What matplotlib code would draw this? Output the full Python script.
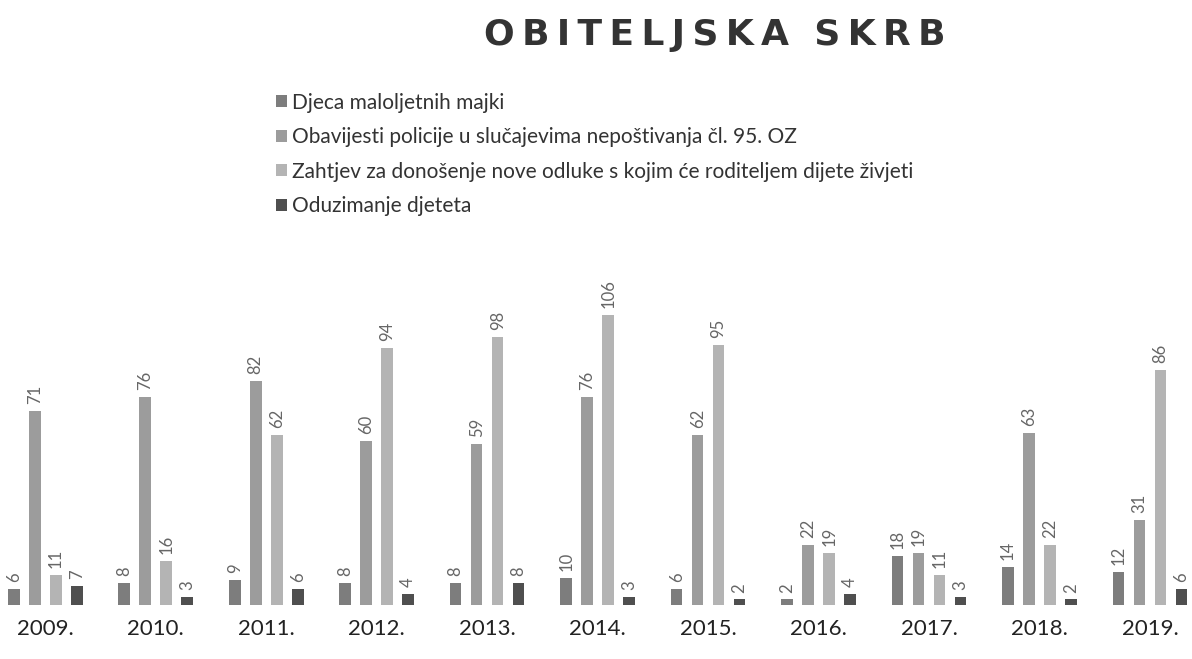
import matplotlib
matplotlib.use("Agg")
import matplotlib.pyplot as plt
import numpy as np
from matplotlib.patches import Patch

years = ["2009.", "2010.", "2011.", "2012.", "2013.", "2014.", "2015.", "2016.", "2017.", "2018.", "2019."]
series_names = [
    "Djeca maloljetnih majki",
    "Obavijesti policije u slučajevima nepoštivanja čl. 95. OZ",
    "Zahtjev za donošenje nove odluke s kojim će roditeljem dijete živjeti",
    "Oduzimanje djeteta",
]
djeca = [6, 8, 9, 8, 8, 10, 6, 2, 18, 14, 12]
obavijesti = [71, 76, 82, 60, 59, 76, 62, 22, 19, 63, 31]
zahtjev = [11, 16, 62, 94, 98, 106, 95, 19, 11, 22, 86]
oduzimanje = [7, 3, 6, 4, 8, 3, 2, 4, 3, 2, 6]

series = [djeca, obavijesti, zahtjev, oduzimanje]
colors = ["#7d7d7d", "#9c9c9c", "#b4b4b4", "#4f4f4f"]

plt.rcParams['font.family'] = ['Lato', 'DejaVu Sans']
fig = plt.figure(figsize=(11.92, 6.59), dpi=100)
ax = fig.add_axes([0.0, 0.082, 1.0, 0.523])

x = np.arange(len(years))
step = 0.19
width = 0.105
for i, (vals, col) in enumerate(zip(series, colors)):
    pos = x + (i - 1.5) * step
    bars = ax.bar(pos, vals, width=width, color=col, edgecolor='none', label=series_names[i])
    ax.bar_label(bars, labels=[str(v) for v in vals], rotation=90, padding=5,
                 fontsize=12, color="#666666")

ax.set_xlim(-0.41, 10.38)
ax.set_ylim(0, 126)
ax.set_xticks(x)
ax.set_xticklabels(years, fontsize=16, color="#222222")
ax.tick_params(axis='x', length=0, pad=10)
ax.set_yticks([])
for s in ax.spines.values():
    s.set_visible(False)

fig.text(0.6, 0.947, "O\u2009B\u2009I\u2009T\u2009E\u2009L\u2009J\u2009S\u2009K\u2009A  S\u2009K\u2009R\u2009B",
         ha='center', va='center',
         fontsize=26, fontweight='bold', color="#333333", family=['DejaVu Sans'])

handles = [Patch(facecolor=c, edgecolor='none') for c in colors]
fig.legend(handles, series_names, loc='upper left', bbox_to_anchor=(0.216, 0.888),
           frameon=False, fontsize=15, handlelength=0.5, handleheight=0.5,
           handletextpad=0.25, labelspacing=0.7, labelcolor="#333333")

fig.savefig("out.png", dpi=100)
